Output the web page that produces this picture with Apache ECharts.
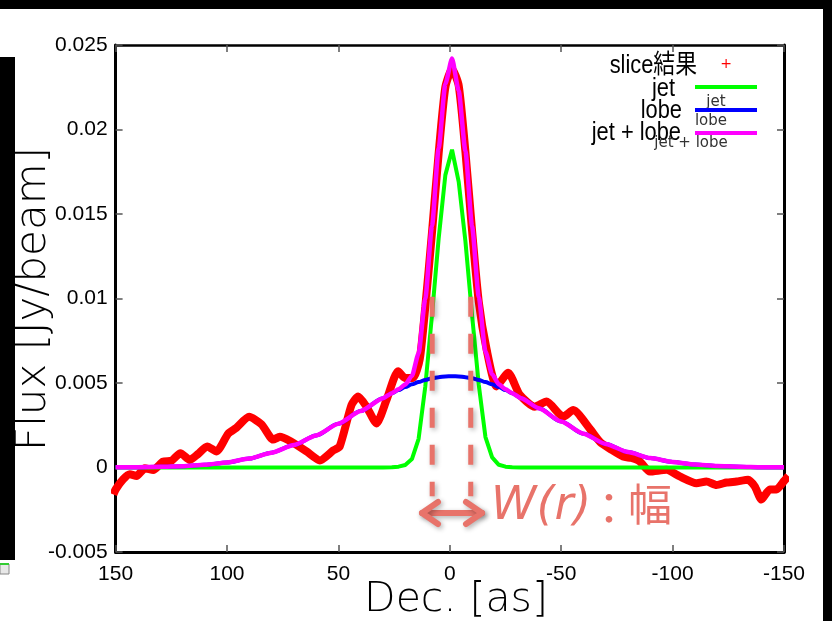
<!DOCTYPE html>
<html>
<head>
<meta charset="utf-8">
<script src="https://cdn.jsdelivr.net/npm/echarts@6/dist/echarts.min.js"></script>
<style>
  html, body { margin: 0; padding: 0; background: #fff; }
  #main { width: 832px; height: 621px; }
</style>
</head>
<body>
<div id="main"></div>
<script>
// slice result (red)
const decSlice = [151, 150, 146.6, 143.6, 140.6, 136.9, 133.1, 128.7, 124.9, 120.9, 116.7, 113, 108.9, 104.7, 99.5, 95.8, 90.1, 84.5, 79.3, 76.3, 71.5, 64.3, 58.3, 52.4, 49.4, 44.1, 41.1, 37.4, 32.9, 28.4, 23.2, 20.2, 16.5, 13.5, 11, 8, 5, 2, -1, -4, -7, -10, -13, -16.5, -21, -26.2, -31.4, -38.1, -43.4, -50.9, -55.4, -62.8, -67.5, -72.6, -77.8, -81.5, -85.3, -89.8, -97.3, -103.2, -110.7, -115.2, -119.7, -124.2, -128.7, -133.9, -136.9, -139.9, -143.6, -146.6, -150, -152]
const fluxSlice = [-0.0016, -0.0013, -0.0007, -0.0004, -0.0005, -0.00005, -0.00015, 0.00035, 0.0004, 0.00085, 0.00045, 0.0008, 0.00125, 0.00095, 0.002, 0.00235, 0.003, 0.00255, 0.00165, 0.00182, 0.00155, 0.00095, 0.00042, 0.001, 0.00125, 0.0037, 0.0042, 0.0036, 0.0026, 0.004, 0.0057, 0.0053, 0.0053, 0.0064, 0.0095, 0.0139, 0.0186, 0.0225, 0.0236, 0.0226, 0.0187, 0.014, 0.0098, 0.007, 0.0048, 0.0056, 0.0043, 0.0036, 0.0039, 0.003, 0.0034, 0.0023, 0.0015, 0.00105, 0.00065, 0.00056, 0.00036, -0.00024, -0.00014, -0.00053, -0.00093, -0.00083, -0.00103, -0.00089, -0.00083, -0.00073, -0.00113, -0.0019, -0.0013, -0.0013, -0.0008, -0.0005]

// model curves
const decModel = [150, 140, 130, 120, 110, 100, 90, 80, 70, 60, 50, 40, 30, 26, 23, 20, 17, 14, 11, 8, 5, 2, -1, -4, -7, -10, -13, -16, -19, -22, -25, -28, -32, -40, -50, -60, -70, -80, -90, -100, -110, -120, -130, -140, -150]
const fluxJet = [0, 0, 0, 0, 0, 0, 0, 0, 0, 0, 0, 0, 0, 0.00001, 0.00005, 0.00015, 0.0005, 0.0017, 0.0048, 0.009, 0.01355, 0.0173, 0.0188, 0.0169, 0.0134, 0.009, 0.0049, 0.0018, 0.0006, 0.00016, 0.00005, 0.00001, 0, 0, 0, 0, 0, 0, 0, 0, 0, 0, 0, 0, 0]
const fluxLobe = [0.00001, 0.00002, 0.00004, 0.00008, 0.00016, 0.0003, 0.00053, 0.00088, 0.00133, 0.0019, 0.00259, 0.00334, 0.0041, 0.00439, 0.00458, 0.00476, 0.00492, 0.00506, 0.00518, 0.00528, 0.00534, 0.00539, 0.0054, 0.00539, 0.00534, 0.00528, 0.00518, 0.00506, 0.00492, 0.00476, 0.00458, 0.00439, 0.0041, 0.0035, 0.00272, 0.002, 0.00139, 0.00091, 0.00056, 0.00033, 0.00018, 0.00009, 0.00005, 0.00002, 0.00001]
const fluxJetLobe = fluxJet.map((v, i) => v + fluxLobe[i])

// width W(r) markers
const widthDec = [7.9, -9.4]
const widthFlux = [0.0101, -0.0017]

const pairs = (xs, ys) => xs.map((x, i) => [x, ys[i]])

let myChart = echarts.init(document.getElementById('main'))

const salmon = '#E8736A'
const shadow = {shadowBlur: 5, shadowColor: 'rgba(0,0,0,0.3)', shadowOffsetX: 2, shadowOffsetY: 2}
const xAxisBase = {
  type: 'value', min: -150, max: 150, interval: 50, inverse: true,
  splitLine: {show: false},
  axisLine: {show: true, onZero: false, lineStyle: {color: '#000', width: 3}},
  axisTick: {show: true, inside: true, length: 7, lineStyle: {color: '#555', width: 1.5}}
}
const yAxisBase = {
  type: 'value', min: -0.005, max: 0.025, interval: 0.005,
  splitLine: {show: false},
  axisLine: {show: true, onZero: false, lineStyle: {color: '#000', width: 3}},
  axisTick: {show: true, inside: true, length: 7, lineStyle: {color: '#555', width: 1.5}}
}
const tickFont = {color: '#000', fontSize: 21, fontFamily: 'Liberation Sans'}
const legendFont = "26px 'Liberation Sans', 'Noto Sans CJK JP'"
const smallFont = "15px 'DejaVu Sans'"

// right aligned, horizontally condensed legend label
function legendLabel (text, right, y) {
  return {type: 'text', x: right, y: y, scaleX: 0.84, style: {text: text, x: 0, y: 0, font: legendFont, fill: '#000', textAlign: 'right', textVerticalAlign: 'middle'}}
}

let option = {
  backgroundColor: '#fff',
  animation: false,
  grid: {left: 115.6, right: 48, top: 45, bottom: 69},
  xAxis: [
    Object.assign({}, xAxisBase, {position: 'bottom', axisLabel: Object.assign({margin: 12}, tickFont)}),
    Object.assign({}, xAxisBase, {position: 'top', axisLabel: {show: false}, axisLine: {show: true, onZero: false, lineStyle: {color: '#000', width: 2.5}}})
  ],
  yAxis: [
    Object.assign({}, yAxisBase, {position: 'left', axisLabel: Object.assign({margin: 8, formatter: v => String(parseFloat(v.toFixed(4)))}, tickFont)}),
    Object.assign({}, yAxisBase, {position: 'right', axisLabel: {show: false}})
  ],
  series: [
    {
      name: 'slice結果', type: 'line', data: pairs(decSlice, fluxSlice),
      symbol: 'none', smooth: 0.2,
      lineStyle: {color: '#FF0000', width: 8}, z: 2
    },
    {
      name: 'jet', type: 'line', data: pairs(decModel, fluxJet),
      symbol: 'none', lineStyle: {color: '#00FF00', width: 4}, z: 3
    },
    {
      name: 'lobe', type: 'line', data: pairs(decModel, fluxLobe),
      symbol: 'none', smooth: 0.3, smoothMonotone: 'x',
      lineStyle: {color: '#0000FF', width: 4}, z: 4
    },
    {
      name: 'jet + lobe', type: 'line', data: pairs(decModel, fluxJetLobe),
      symbol: 'none', smooth: 0.2, smoothMonotone: 'x',
      lineStyle: {color: '#FF00FF', width: 4.5}, z: 5
    },
    {
      type: 'line', data: [[widthDec[0], widthFlux[0]], [widthDec[0], widthFlux[1]]],
      symbol: 'none', clip: false, z: 6,
      lineStyle: Object.assign({color: salmon, width: 5, type: [20, 17]}, shadow)
    },
    {
      type: 'line', data: [[widthDec[1], widthFlux[0]], [widthDec[1], widthFlux[1]]],
      symbol: 'none', clip: false, z: 6,
      lineStyle: Object.assign({color: salmon, width: 5, type: [20, 17]}, shadow)
    }
  ],
  graphic: [
    // frame of the screenshot
    {type: 'rect', shape: {x: 0, y: 0, width: 832, height: 9}, style: {fill: '#000'}},
    {type: 'rect', shape: {x: 0, y: 57, width: 15, height: 503}, style: {fill: '#000'}},
    {type: 'rect', shape: {x: 823, y: 0, width: 9, height: 621}, style: {fill: '#000'}},
    {type: 'rect', shape: {x: 0, y: 564, width: 9, height: 10}, style: {fill: '#e8e8e8', stroke: '#888', lineWidth: 1}},
    {type: 'line', shape: {x1: 0, y1: 564, x2: 9, y2: 564}, style: {stroke: '#3c3', lineWidth: 2}},
    // legend
    legendLabel('slice結果', 697, 66),
    {type: 'text', style: {text: '+', x: 726, y: 64, font: "14px 'DejaVu Sans'", fill: '#FF0000', textAlign: 'center', textVerticalAlign: 'middle'}},
    legendLabel('jet', 675, 89),
    {type: 'line', shape: {x1: 695, y1: 87, x2: 757, y2: 87}, style: {stroke: '#00FF00', lineWidth: 4}},
    {type: 'text', style: {text: 'jet', x: 716, y: 102, font: smallFont, fill: '#333', textAlign: 'center', textVerticalAlign: 'middle'}},
    legendLabel('lobe', 682, 111),
    {type: 'line', shape: {x1: 695, y1: 110, x2: 757, y2: 110}, style: {stroke: '#0000FF', lineWidth: 4}},
    {type: 'text', style: {text: 'lobe', x: 711, y: 121, font: smallFont, fill: '#333', textAlign: 'center', textVerticalAlign: 'middle'}},
    legendLabel('jet + lobe', 681, 133),
    {type: 'line', shape: {x1: 695, y1: 133, x2: 757, y2: 133}, style: {stroke: '#FF00FF', lineWidth: 4}},
    {type: 'text', style: {text: 'jet + lobe', x: 691, y: 143, font: smallFont, fill: '#333', textAlign: 'center', textVerticalAlign: 'middle'}},
    // axis titles
    {type: 'text', style: {text: 'Dec. [as]', x: 456, y: 600, font: "300 41px 'DejaVu Sans'", fill: '#000', textAlign: 'center', textVerticalAlign: 'middle'}},
    {type: 'text', x: 34, y: 299, rotation: Math.PI / 2, style: {text: 'Flux [Jy/beam]', x: 0, y: 0, font: "300 42px 'DejaVu Sans'", fill: '#000', textAlign: 'center', textVerticalAlign: 'middle'}},
    // W(r) annotation
    {type: 'polyline', shape: {points: [[422, 513], [482, 513]]}, style: Object.assign({stroke: salmon, lineWidth: 6, lineCap: 'round'}, shadow)},
    {type: 'polyline', shape: {points: [[438, 502], [422, 513], [438, 524]]}, style: Object.assign({stroke: salmon, fill: null, lineWidth: 6, lineCap: 'round', lineJoin: 'round'}, shadow)},
    {type: 'polyline', shape: {points: [[466, 502], [482, 513], [466, 524]]}, style: Object.assign({stroke: salmon, fill: null, lineWidth: 6, lineCap: 'round', lineJoin: 'round'}, shadow)},
    {type: 'text', style: {text: 'W(r)', x: 491, y: 507, font: "italic 300 46px 'DejaVu Sans'", fill: salmon, textAlign: 'left', textVerticalAlign: 'middle'}},
    {type: 'text', style: {text: '：', x: 609, y: 508, font: "44px 'Noto Sans CJK JP'", fill: salmon, textAlign: 'center', textVerticalAlign: 'middle'}},
    {type: 'text', style: {text: '幅', x: 650, y: 504, font: "44px 'Noto Sans CJK JP'", fill: salmon, textAlign: 'center', textVerticalAlign: 'middle'}}
  ]
}
myChart.setOption(option, true)
</script>
</body>
</html>
